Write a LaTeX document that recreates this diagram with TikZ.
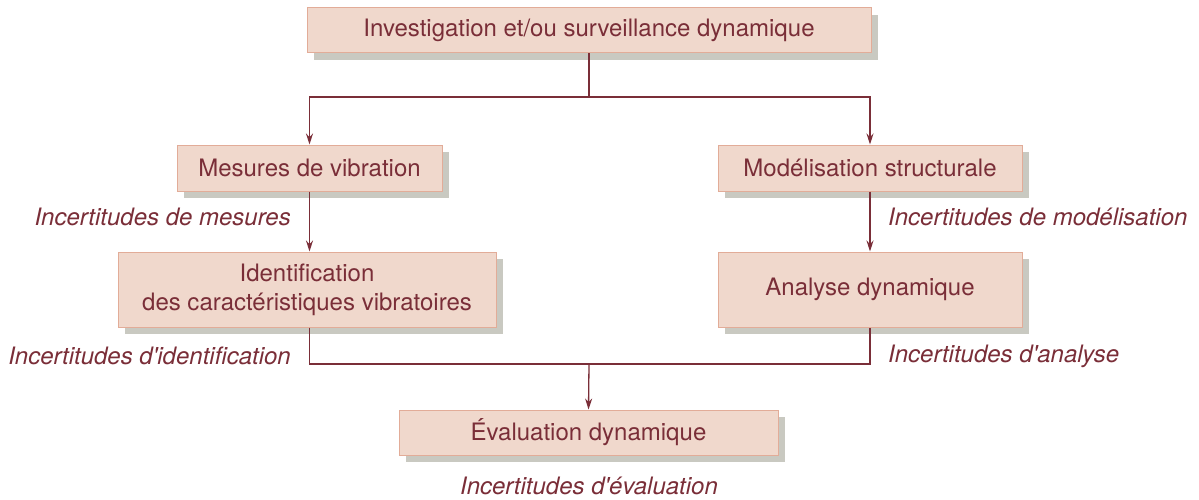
\documentclass[tikz,border=0pt]{standalone}
\usepackage{fontspec}
\setmainfont{TeX Gyre Heros}
\usetikzlibrary{arrows.meta,shadows}
\definecolor{boxfill}{HTML}{F0D8CC}
\definecolor{boxline}{HTML}{E2AC98}
\definecolor{ink}{HTML}{7A2E38}
\definecolor{shade}{HTML}{C9C9C1}
\tikzset{
  etape/.style={draw=boxline, line width=1pt, fill=boxfill, text=ink, align=center,
    font=\fontsize{24}{29}\selectfont, inner sep=0pt,
    drop shadow={shadow xshift=7pt, shadow yshift=-7pt, fill=shade, opacity=1}},
  incert/.style={text=ink, font=\fontsize{24}{29}\selectfont\itshape, inner sep=0pt},
  fleche/.style={draw=ink, line width=1.3pt, -{Stealth[length=11pt,width=7pt]}},
  trait/.style={draw=ink, line width=1.3pt}
}
\newcommand{\apos}{\textquotesingle}
\begin{document}
\begin{tikzpicture}[x=1pt,y=-1pt]
\useasboundingbox (0,0) rectangle (1199,499);
% boites
\node [etape, minimum width=564pt, minimum height=45pt] (invest) at (589,30) {Investigation et/ou surveillance dynamique};
\node [etape, minimum width=265pt, minimum height=46pt] (mesures) at (309.5,168) {Mesures de vibration};
\node [etape, minimum width=304pt, minimum height=46pt] (modele) at (870,168) {Modélisation structurale};
\node [etape, minimum width=378pt, minimum height=75pt] (ident) at (307,289.5) {Identification\\des caractéristiques vibratoires};
\node [etape, minimum width=304pt, minimum height=75pt] (analyse) at (870,289.5) {Analyse dynamique};
\node [etape, minimum width=379pt, minimum height=45pt] (eval) at (588.5,432.5) {Évaluation dynamique};
% incertitudes
\node [incert, anchor=east] (incmes) at (291,217) {Incertitudes de mesures};
\node [incert, anchor=west] (incmod) at (888,217) {Incertitudes de modélisation};
\node [incert, anchor=east] (incid) at (291,356) {Incertitudes d\apos identification};
\node [incert, anchor=west] (incana) at (888,356) {Incertitudes d\apos analyse};
\node [incert] (inceval) at (589,486) {Incertitudes d\apos évaluation};
% liaisons
\coordinate (haut) at (589,97);
\coordinate (bas) at (589,364);
\draw [trait] (invest.south) -- (haut);
\draw [fleche] (haut) -| (mesures.north);
\draw [fleche] (haut) -| (modele.north);
\draw [fleche] (mesures.south) -- (mesures.south |- ident.north);
\draw [fleche] (modele.south) -- (analyse.north);
\draw [trait] (mesures.south |- ident.south) |- (bas) -| (analyse.south);
\draw [fleche] (bas) -- (eval.north);
\end{tikzpicture}
\end{document}
